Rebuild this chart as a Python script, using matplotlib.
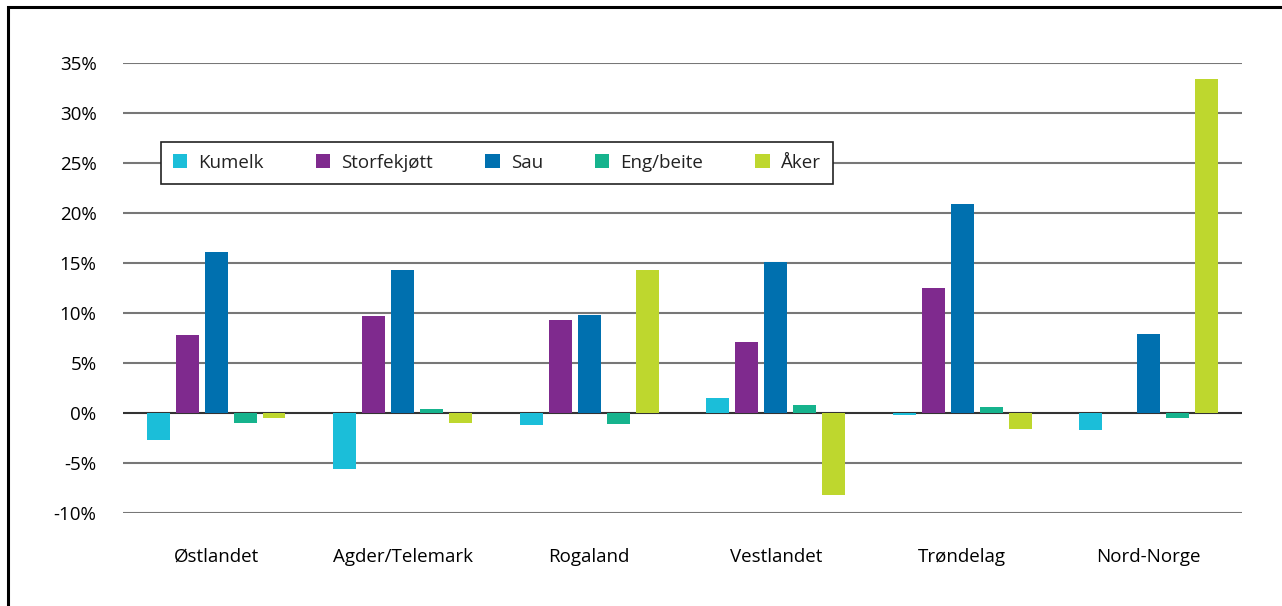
import numpy as np
import matplotlib
matplotlib.use("Agg")
import matplotlib.pyplot as plt
from matplotlib.patches import Rectangle

# Data (prosentvis endring per region)
regions = ["Østlandet", "Agder/Telemark", "Rogaland", "Vestlandet", "Trøndelag", "Nord-Norge"]
series_names = ["Kumelk", "Storfekjøtt", "Sau", "Eng/beite", "Åker"]
kumelk = [-2.7, -5.6, -1.2, 1.5, -0.2, -1.7]
storfekjott = [7.8, 9.7, 9.3, 7.1, 12.5, 0.0]
sau = [16.1, 14.3, 9.8, 15.1, 20.9, 7.9]
eng_beite = [-1.0, 0.4, -1.1, 0.8, 0.6, -0.5]
aker = [-0.5, -1.0, 14.3, -8.2, -1.6, 33.4]
y_ticks = [-10, -5, 0, 5, 10, 15, 20, 25, 30, 35]

colors = ["#1bbed9", "#7f2a8e", "#0070af", "#16b38d", "#bed72e"]

plt.rcParams['font.family'] = ['Open Sans', 'DejaVu Sans']
plt.rcParams['text.color'] = '#222222'
fs = 13.5

fig = plt.figure(figsize=(12.82, 6.06), dpi=100)
ax = fig.add_axes([0.0959, 0.1535, 0.8729, 0.7426])

x = np.arange(len(regions))
pitch = 0.155
width = 0.123
all_series = [kumelk, storfekjott, sau, eng_beite, aker]
for i, (name, vals) in enumerate(zip(series_names, all_series)):
    ax.bar(x + (i - 2) * pitch, vals, width, color=colors[i], label=name, zorder=3)

ax.set_xlim(-0.5, len(regions) - 0.5)
ax.set_ylim(-10, 35)
ax.set_yticks(y_ticks)
ax.set_yticklabels([f"{v}%" for v in y_ticks], fontsize=fs)
ax.set_xticks(x)
ax.set_xticklabels(regions, fontsize=fs)
ax.tick_params(axis='both', length=0)
ax.tick_params(axis='x', pad=25)
ax.tick_params(axis='y', pad=19)

for v in y_ticks:
    ax.axhline(v, color='#333333' if v == 0 else '#777777', lw=1.5, zorder=1)
for s in ax.spines.values():
    s.set_visible(False)

leg = ax.legend(loc='lower left', bbox_to_anchor=(0.034, 0.731, 0.6005, 0.091),
                mode='expand', ncol=5, frameon=True, fancybox=False,
                fontsize=fs, handlelength=0.75, handleheight=0.75,
                handletextpad=0.6, borderaxespad=0, borderpad=0.65)
leg.get_frame().set_edgecolor('#222222')
leg.get_frame().set_linewidth(1.2)
leg.get_frame().set_alpha(1)
leg.set_zorder(5)

# ramme rundt figuren
fig.patches.append(Rectangle((0.0062, -0.2), 1.2, 1.1884, transform=fig.transFigure,
                             fill=False, edgecolor='black', lw=2.2))

fig.savefig("out.png", dpi=100)
